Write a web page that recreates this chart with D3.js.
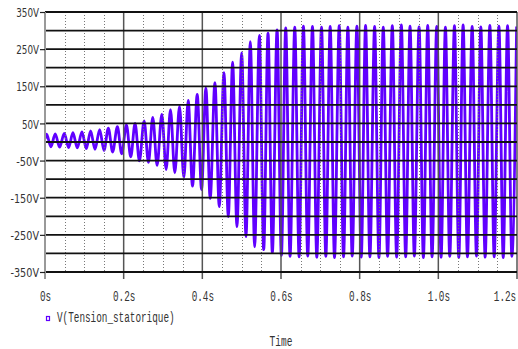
<!DOCTYPE html>
<html><head><meta charset="utf-8">
<script src="https://cdn.jsdelivr.net/npm/d3@7"></script>
<style>html,body{margin:0;padding:0;background:#fff;}svg{display:block;}</style>
</head><body>
<svg id="c" width="518" height="349"></svg>
<script>
// ---- data ----
const xTickValues = [0, 0.2, 0.4, 0.6, 0.8, 1.0, 1.2];
const xTickLabels = ["0s", "0.2s", "0.4s", "0.6s", "0.8s", "1.0s", "1.2s"];
const xMinorValues = [0.05,0.1,0.15,0.25,0.3,0.35,0.45,0.5,0.55,0.65,0.7,0.75,0.85,0.9,0.95,1.05,1.1,1.15];
const yTickValues = [350, 250, 150, 50, -50, -150, -250, -350];
const yTickLabels = ["350V", "250V", "150V", "50V", "-50V", "-150V", "-250V", "-350V"];
const yGridValues = [350,300,250,200,150,100,50,0,-50,-100,-150,-200,-250,-300,-350];
const seriesName = "V(Tension_statorique)";
const xTitle = "Time";

const startPoint = [0, 8];
const peakTimes = [0.004,0.026,0.049,0.071,0.094,0.116,0.139,0.161,0.184,0.207,0.229,0.252,0.274,0.297,0.319,0.342,0.364,0.387,0.409,0.432,0.455,0.477,0.500,0.522,0.545,0.567,0.590,0.612,0.635,0.657,0.680,0.703,0.725,0.748,0.770,0.793,0.815,0.838,0.860,0.883,0.906,0.928,0.951,0.973,0.996,1.018,1.041,1.063,1.086,1.108,1.131,1.154,1.176,1.199];
const peakValues = [21,22,23,25,27,30,33,37,41,46,50,57,66,74,87,96,112,128,145,160,187,215,240,270,287,293,302,307,309,312,311,309,311,313,309,312,314,311,309,313,315,312,310,314,311,309,313,315,311,310,314,312,313,311];
const troughTimes = [0.015,0.037,0.060,0.082,0.105,0.127,0.150,0.172,0.195,0.218,0.240,0.263,0.285,0.308,0.330,0.353,0.375,0.398,0.420,0.443,0.466,0.488,0.511,0.533,0.556,0.578,0.601,0.623,0.646,0.668,0.691,0.714,0.736,0.759,0.781,0.804,0.826,0.849,0.871,0.894,0.917,0.939,0.962,0.984,1.007,1.029,1.052,1.074,1.097,1.119,1.142,1.165,1.187];
const troughValues = [-13,-14,-15,-16,-18,-20,-23,-27,-32,-40,-51,-55,-63,-74,-83,-96,-119,-128,-152,-174,-201,-228,-255,-282,-290,-298,-306,-308,-309,-307,-310,-308,-311,-309,-307,-310,-309,-311,-308,-310,-309,-307,-311,-309,-310,-308,-311,-309,-307,-310,-309,-311,-308];

// ---- build series ----
const pts = [startPoint];
peakTimes.forEach((t,i)=>pts.push([t, peakValues[i]]));
troughTimes.forEach((t,i)=>pts.push([t, troughValues[i]]));
pts.sort((a,b)=>a[0]-b[0]);

const svg = d3.select("#c");
const L = 45, R = 517, T = 12, B = 272;
const x = d3.scaleLinear().domain([0, 1.2]).range([L, R]);
const y = d3.scaleLinear().domain([-350, 350]).range([B, T]);

svg.append("defs").append("clipPath").attr("id","clip")
  .append("rect").attr("x",L).attr("y",T-2).attr("width",R-L).attr("height",B-T+4);

// trace
const line = d3.line().x(d=>x(d[0])).y(d=>y(d[1])).curve(d3.curveMonotoneX);
svg.append("path").datum(pts).attr("clip-path","url(#clip)")
  .attr("d", line).attr("fill","none").attr("stroke","#6000ff")
  .attr("stroke-width",2.8).attr("stroke-linejoin","round");

// minor dotted verticals
svg.append("g").selectAll("line").data(xMinorValues).join("line")
  .attr("x1",d=>Math.round(x(d))+0.5).attr("x2",d=>Math.round(x(d))+0.5)
  .attr("y1",T).attr("y2",B)
  .attr("stroke","#777").attr("stroke-width",1).attr("stroke-dasharray","1,2");

// major verticals
svg.append("g").selectAll("line").data(xTickValues.slice(1)).join("line")
  .attr("x1",d=>x(d)).attr("x2",d=>x(d)).attr("y1",T).attr("y2",B+7)
  .attr("stroke","#555").attr("stroke-width",1.5);

// horizontal grid
svg.append("g").selectAll("line").data(yGridValues).join("line")
  .attr("x1",L).attr("x2",R).attr("y1",d=>y(d)).attr("y2",d=>y(d))
  .attr("stroke","#111").attr("stroke-width",1.8);

// left axis
svg.append("line").attr("x1",L).attr("x2",L).attr("y1",T).attr("y2",B+7)
  .attr("stroke","#999").attr("stroke-width",2);

// y axis via d3.axisLeft
const yAxis = d3.axisLeft(y).tickValues(yTickValues)
  .tickFormat((d,i)=>yTickLabels[i]).tickSize(5).tickPadding(1);
const gy = svg.append("g").attr("transform",`translate(${L},0)`).call(yAxis);
gy.select(".domain").remove();
gy.selectAll(".tick line").attr("stroke","#222").attr("stroke-width",1.2);
gy.selectAll(".tick text")
  .attr("font-family","'DejaVu Sans Condensed','DejaVu Sans',sans-serif")
  .attr("font-size",13).attr("fill","#333")
  .attr("textLength",(d,i)=>yTickLabels[i].length*5.7).attr("lengthAdjust","spacingAndGlyphs")
  .attr("dy","0.36em");

// x axis labels via d3.axisBottom
const xAxis = d3.axisBottom(x).tickValues(xTickValues)
  .tickFormat((d,i)=>xTickLabels[i]).tickSize(0).tickPadding(19);
const gx = svg.append("g").attr("transform",`translate(0,${B})`).call(xAxis);
gx.select(".domain").remove();
gx.selectAll(".tick text")
  .attr("font-family","'Liberation Mono',monospace")
  .attr("font-size",14).attr("fill","#333")
  .attr("text-anchor",(d,i)=>i===xTickValues.length-1?"end":"middle")
  .attr("x",(d,i)=>i===xTickValues.length-1?-2:0)
  .attr("transform","scale(0.667,1)");

// legend
svg.append("rect").attr("x",46.5).attr("y",316.5).attr("width",3).attr("height",4)
  .attr("fill","none").attr("stroke","#6000ff").attr("stroke-width",1.2);
svg.append("text").attr("x",57).attr("y",322).text(seriesName)
  .attr("font-family","'Liberation Mono',monospace").attr("font-size",14).attr("fill","#333")
  .attr("textLength",seriesName.length*5.6).attr("lengthAdjust","spacingAndGlyphs");

// x title
svg.append("text").attr("x",(L+R)/2).attr("y",346).attr("text-anchor","middle").text(xTitle)
  .attr("font-family","'Liberation Mono',monospace").attr("font-size",14).attr("fill","#333")
  .attr("textLength",xTitle.length*5.7).attr("lengthAdjust","spacingAndGlyphs");
</script>
</body></html>
